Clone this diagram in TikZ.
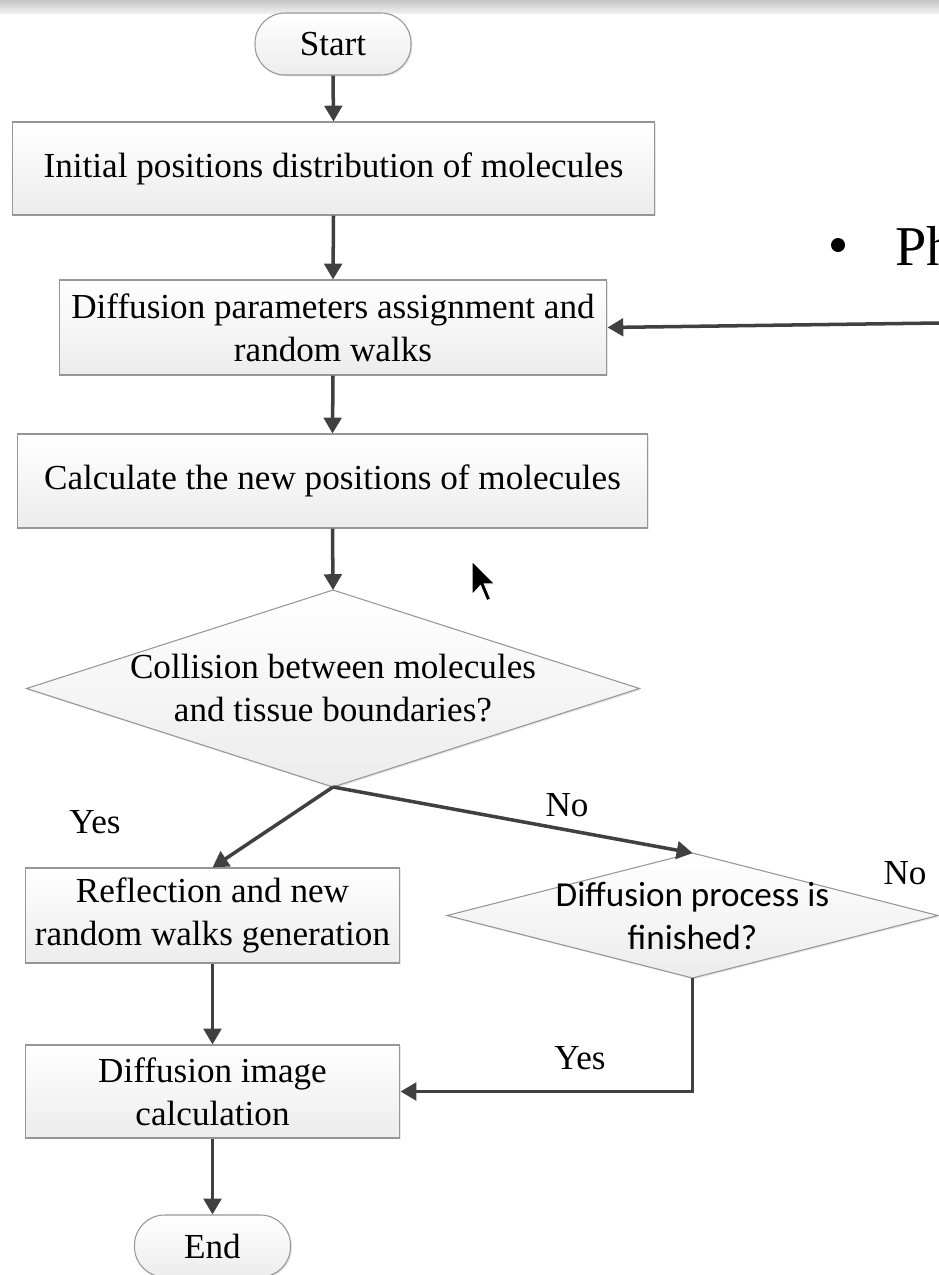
\documentclass[tikz,border=0pt]{standalone}
\usepackage{fontspec}
\setmainfont{Liberation Serif}
\newfontfamily\calibrifont{Carlito}
\usetikzlibrary{shapes.geometric, arrows.meta, shadows}
\definecolor{flowline}{RGB}{64, 64, 64}
\definecolor{boxedge}{RGB}{150, 150, 150}
\definecolor{boxfill}{RGB}{236, 236, 236}

\begin{document}
\begin{tikzpicture}[x=0.02cm, y=-0.02cm,
    box/.style={draw=boxedge, line width=0.6pt, top color=white, bottom color=boxfill,
      drop shadow={opacity=0.2, shadow xshift=0.8pt, shadow yshift=-0.8pt},
      align=center, inner sep=2pt, font=\fontsize{20}{24.5}\selectfont},
    terminal/.style={box, rounded corners=0.6cm, minimum width=3.12cm, minimum height=1.24cm},
    decision/.style={diamond, draw=boxedge, line width=0.6pt, top color=white, bottom color=boxfill,
      drop shadow={opacity=0.2, shadow xshift=0.8pt, shadow yshift=-0.8pt},
      inner sep=0pt, outer sep=0pt},
    flow/.style={flowline, line width=2pt, -{Triangle[length=9pt, width=10pt]}},
    caption/.style={font=\fontsize{20}{24.5}\selectfont, inner sep=0pt, align=center}
  ]
        \useasboundingbox (0,0) rectangle (939,1275);
        \clip (0,0) rectangle (939,1275);
        % Window bar
        \shade[top color=gray!45, bottom color=gray!12] (0,0) rectangle (939,13);
        % Start and first steps
        \node[terminal] (start) at (333,44) {Start};
        \node[box, minimum width=12.86cm, minimum height=1.86cm] (init)
          at (333.5,168.5) {Initial positions distribution of molecules};
        \node[box, minimum width=10.96cm, minimum height=1.9cm] (diff)
          at (333,327.5) {Diffusion parameters assignment and\\random walks};
        \node[box, minimum width=12.62cm, minimum height=1.88cm] (calc)
          at (332.5,481) {Calculate the new positions of molecules};
        % Collision test
        \node[decision, minimum width=12.26cm, minimum height=3.94cm] (coll) at (333,688.5) {};
        \node[caption] (colltext) at (coll) {Collision between molecules\\and tissue boundaries?};
        % Reflection branch
        \node[box, minimum width=7.5cm, minimum height=1.9cm] (refl)
          at (212.5,915.5) {Reflection and new\\random walks generation};
        % Finished test
        \node[decision, minimum width=9.82cm, minimum height=2.5cm] (fin) at (692.5,915.5) {};
        \node[caption, font=\calibrifont\fontsize{20}{24.5}\selectfont] (fintext)
          at (fin) {Diffusion process is\\finished?};
        % Image and end
        \node[box, minimum width=7.5cm, minimum height=1.86cm] (image)
          at (212.5,1091.5) {Diffusion image\\calculation};
        \node[terminal] (end) at (212.5,1246) {End};
        % Branch labels
        \node[caption] (yesleft) at (95,822) {Yes};
        \node[caption] (nomid) at (567,805) {No};
        \node[caption] (noright) at (905,873) {No};
        \node[caption] (yesbottom) at (580,1058) {Yes};
        % Connectors
        \draw[flow] (start.south) -- (init.north);
        \draw[flow] (init.south) -- (diff.north);
        \draw[flow] (diff.south) -- (calc.north);
        \draw[flow] (calc.south) -- (coll.north);
        \draw[flow] (coll.south) -- (refl.north);
        \draw[flow] (coll.south) -- (fin.north);
        \draw[flow] (refl.south) -- (image.north);
        \draw[flow] (fin.south) |- (image.east);
        \draw[flow] (image.south) -- (end.north);
        % Loop back from the right
        \coordinate (loopin) at (939,323);
        \draw[flow] (loopin) -- (diff.east);
        % Slide text
        \fill (838,245) circle (0.14cm);
        \node[anchor=base west, font=\fontsize{32}{38}\selectfont, inner sep=0pt] (ph) at (895,265) {Ph};
        % Mouse pointer
        \filldraw[fill=black, draw=white, line width=0.8pt]
          (472,561) -- ++(0,34) -- ++(8.4,-9) -- ++(6.3,15) -- ++(4.2,-2)
          -- ++(-6.3,-15) -- ++(10.4,0) -- cycle;
      \end{tikzpicture}
\end{document}
